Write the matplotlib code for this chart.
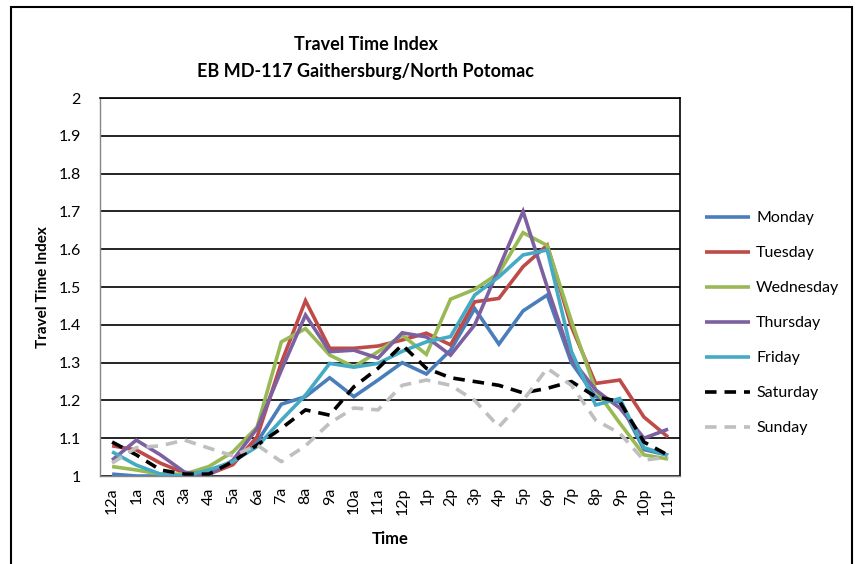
import matplotlib
matplotlib.use("Agg")
import matplotlib.pyplot as plt
from matplotlib.patches import Rectangle

plt.rcParams['font.family'] = ['Lato', 'DejaVu Sans']

hours = ['12a', '1a', '2a', '3a', '4a', '5a', '6a', '7a', '8a', '9a', '10a', '11a',
         '12p', '1p', '2p', '3p', '4p', '5p', '6p', '7p', '8p', '9p', '10p', '11p']

monday = [1.005, 1.0, 1.0, 1.0, 1.01, 1.035, 1.09, 1.19, 1.21, 1.26, 1.21, 1.254,
          1.30, 1.27, 1.333, 1.443, 1.349, 1.437, 1.479, 1.30, 1.21, 1.195, 1.07, 1.055]
tuesday = [1.08, 1.069, 1.034, 1.008, 1.005, 1.03, 1.104, 1.30, 1.464, 1.338, 1.338, 1.344,
           1.36, 1.378, 1.347, 1.461, 1.47, 1.554, 1.611, 1.395, 1.245, 1.254, 1.156, 1.103]
wednesday = [1.025, 1.016, 1.005, 1.005, 1.025, 1.064, 1.13, 1.355, 1.39, 1.32, 1.289, 1.329,
             1.373, 1.322, 1.468, 1.494, 1.537, 1.644, 1.61, 1.41, 1.228, 1.14, 1.056, 1.045]
thursday = [1.042, 1.095, 1.056, 1.01, 1.003, 1.042, 1.126, 1.28, 1.426, 1.329, 1.333, 1.312,
            1.379, 1.368, 1.32, 1.40, 1.55, 1.70, 1.50, 1.31, 1.228, 1.18, 1.10, 1.124]
friday = [1.064, 1.029, 1.005, 1.0, 1.016, 1.038, 1.078, 1.148, 1.214, 1.298, 1.288, 1.298,
          1.33, 1.355, 1.369, 1.479, 1.527, 1.585, 1.598, 1.33, 1.188, 1.205, 1.075, 1.055]
saturday = [1.09, 1.056, 1.016, 1.005, 1.005, 1.038, 1.082, 1.126, 1.175, 1.161, 1.236, 1.285,
            1.347, 1.285, 1.26, 1.25, 1.24, 1.22, 1.232, 1.25, 1.21, 1.197, 1.09, 1.055]
sunday = [1.034, 1.075, 1.08, 1.095, 1.074, 1.053, 1.082, 1.038, 1.08, 1.14, 1.18, 1.175,
          1.24, 1.254, 1.24, 1.20, 1.13, 1.20, 1.285, 1.24, 1.148, 1.113, 1.042, 1.05]

series = [('Monday', monday, '#4a7ebb', '-'),
          ('Tuesday', tuesday, '#be4b48', '-'),
          ('Wednesday', wednesday, '#98b954', '-'),
          ('Thursday', thursday, '#7d60a0', '-'),
          ('Friday', friday, '#46aac5', '-'),
          ('Saturday', saturday, '#000000', '--'),
          ('Sunday', sunday, '#bfbfbf', '--')]

fig = plt.figure(figsize=(8.57, 5.64), dpi=100)
ax = fig.add_axes([0.1167, 0.156, 0.677, 0.670])

x = list(range(len(hours)))
for name, vals, col, ls in series:
    line, = ax.plot(x, vals, color=col, lw=2.6, ls=ls, label=name,
                    solid_capstyle='butt', solid_joinstyle='miter')
    if ls == '--':
        line.set_dashes([3.2, 2.2])
        line.set_dash_capstyle('butt')

ax.set_xlim(-0.5, len(hours) - 0.5)
ax.set_ylim(1, 2)
ax.set_yticks([1 + 0.1 * i for i in range(11)])
ax.set_yticklabels(['1', '1.1', '1.2', '1.3', '1.4', '1.5', '1.6', '1.7', '1.8', '1.9', '2'])
ax.set_xticks(x)
ax.set_xticklabels(hours, rotation=90)
ax.tick_params(axis='both', length=0, labelsize=11.5, colors='#000000')
ax.tick_params(axis='x', pad=8)
ax.tick_params(axis='y', pad=14)
ax.yaxis.grid(True, color='#000000', lw=1.2)
ax.set_axisbelow(True)
for side in ['left', 'bottom']:
    ax.spines[side].set_color('#868686')
    ax.spines[side].set_linewidth(1.0)
for side in ['top', 'right']:
    ax.spines[side].set_color('#000000')
    ax.spines[side].set_linewidth(1.2)

ax.set_xlabel('Time', fontsize=12, fontweight='bold', labelpad=12)
ax.set_ylabel('Travel Time Index', fontsize=11, fontweight='bold', labelpad=6)
fig.text(0.4265, 0.921, 'Travel Time Index', ha='center', va='center',
         fontsize=13, fontweight='bold')
fig.text(0.4265, 0.873, 'EB MD-117 Gaithersburg/North Potomac', ha='center', va='center',
         fontsize=13, fontweight='bold')

leg = fig.legend(loc='center left', bbox_to_anchor=(0.806, 0.427), frameon=False,
                 fontsize=11.5, handlelength=2.8, handletextpad=0.4, labelspacing=1.3)

fig.patches.append(Rectangle((11 / 857, -0.05), 841 / 857, 1.05 - 7 / 564,
                             transform=fig.transFigure, fill=False,
                             edgecolor='black', lw=1.5))

fig.savefig('out.png', dpi=100)
